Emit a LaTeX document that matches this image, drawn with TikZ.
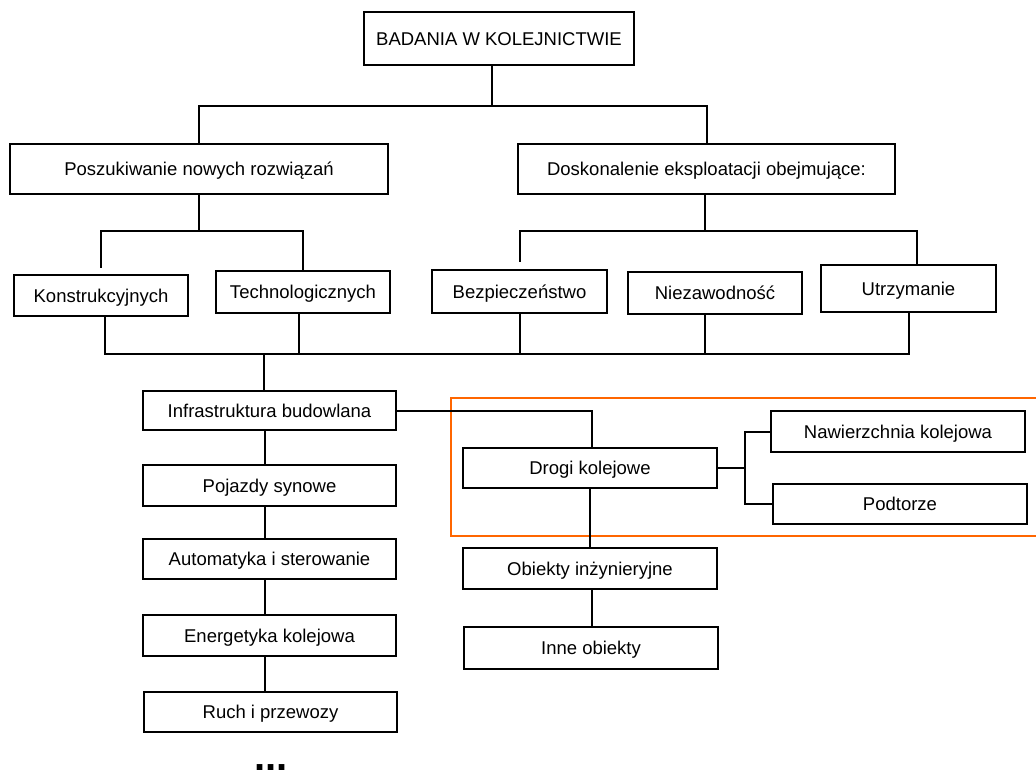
\documentclass[tikz,border=0pt]{standalone}
\usepackage{fontspec}
\setmainfont{Liberation Sans}
\definecolor{frameorange}{RGB}{255,102,0}
\begin{document}
\begin{tikzpicture}[x=1pt,y=-1pt,
  box/.style n args={2}{draw,line width=2.2pt,minimum width=#1,minimum height=#2,
    inner sep=0pt,text height=13.2pt,text depth=0pt,font=\fontsize{18.5}{22}\selectfont},
  link/.style={line width=2pt}]
  \useasboundingbox (0,0) rectangle (1036,769);

  % frame round the railway track part
  \draw[line width=2pt,color=frameorange] (451,398) rectangle (1042,536);

  \node[box={270}{53}] (top) at (499,38.5) {BADANIA W KOLEJNICTWIE};
  \node[box={378}{50}] (pos) at (199,169) {Poszukiwanie nowych rozwiązań};
  \node[box={377}{50}] (dos) at (706.5,169) {Doskonalenie eksploatacji obejmujące:};

  \node[box={174}{41}] (kon)  at (101,295.5) {Konstrukcyjnych};
  \node[box={174}{42}] (tech) at (303,292) {Technologicznych};
  \node[box={175}{43}] (bez)  at (519.5,291.5) {Bezpieczeństwo};
  \node[box={174}{42}] (nie)  at (715,293) {Niezawodność};
  \node[box={175}{47}] (utr)  at (908.5,288.5) {Utrzymanie};

  \node[box={253}{39}] (infra) at (269.5,410.5) {Infrastruktura budowlana};
  \node[box={253}{41}] (poj)   at (269.5,485.5) {Pojazdy synowe};
  \node[box={253}{40}] (aut)   at (269.5,559) {Automatyka i sterowanie};
  \node[box={253}{41}] (ene)   at (269.5,635.5) {Energetyka kolejowa};
  \node[box={253}{40}] (ruch)  at (270.5,712) {Ruch i przewozy};

  \node[box={254}{40}] (drogi) at (590,468) {Drogi kolejowe};
  \node[box={254}{41}] (obi)   at (590,568.5) {Obiekty inżynieryjne};
  \node[box={254}{42}] (inne)  at (591,648) {Inne obiekty};
  \node[box={254}{41}] (naw)   at (898,431.5) {Nawierzchnia kolejowa};
  \node[box={254}{40}] (pod)   at (900,504) {Podtorze};

  \node[anchor=base west,inner sep=0pt,font=\fontsize{40}{40}\selectfont\bfseries] (dots) at (254,770) {...};

  % top levels
  \coordinate (j1) at (492,106);
  \draw[link] (top.south -| j1) -- (j1);
  \draw[link] (pos.north) |- (j1) -| (dos.north);

  \coordinate (j2) at (199,231);
  \draw[link] (pos.south) -- (j2);
  \draw[link,shorten >=6pt] (j2) -| (kon.north);
  \draw[link] (j2) -| (tech.north);

  \coordinate (j3) at (705,231);
  \draw[link] (dos.south -| j3) -- (j3);
  \draw[link,shorten >=7pt] (j3) -| (bez.north);
  \draw[link] (j3) -| ([xshift=8.5pt]utr.north);

  % common bus
  \coordinate (j4) at (264,354);
  \draw[link] ([xshift=4pt]kon.south) |- (utr.south |- j4) -- (utr.south);
  \draw[link] ([xshift=-4pt]tech.south) -- ([xshift=-4pt]tech.south |- j4);
  \draw[link] (bez.south) -- (bez.south |- j4);
  \draw[link] ([xshift=-10pt]nie.south) -- ([xshift=-10pt]nie.south |- j4);
  \draw[link] (j4) -- (infra.north -| j4);

  % left column
  \draw[link] ([xshift=-5pt]infra.south) -- ([xshift=-5pt]poj.north);
  \draw[link] ([xshift=-5pt]poj.south) -- ([xshift=-5pt]aut.north);
  \draw[link] ([xshift=-5pt]aut.south) -- ([xshift=-5pt]ene.north);
  \draw[link] ([xshift=-5pt]ene.south) -- ([xshift=-6pt]ruch.north);

  % right part
  \draw[link] (infra.east) -| ([xshift=2pt]drogi.north);
  \draw[link] (drogi.south) -- (obi.north);
  \draw[link] ([xshift=2pt]obi.south) -- ([xshift=1pt]inne.north);
  \coordinate (j5) at (745,468);
  \draw[link] (drogi.east) -- (j5);
  \draw[link] (naw.west) -| (j5) |- (pod.west);
\end{tikzpicture}
\end{document}
